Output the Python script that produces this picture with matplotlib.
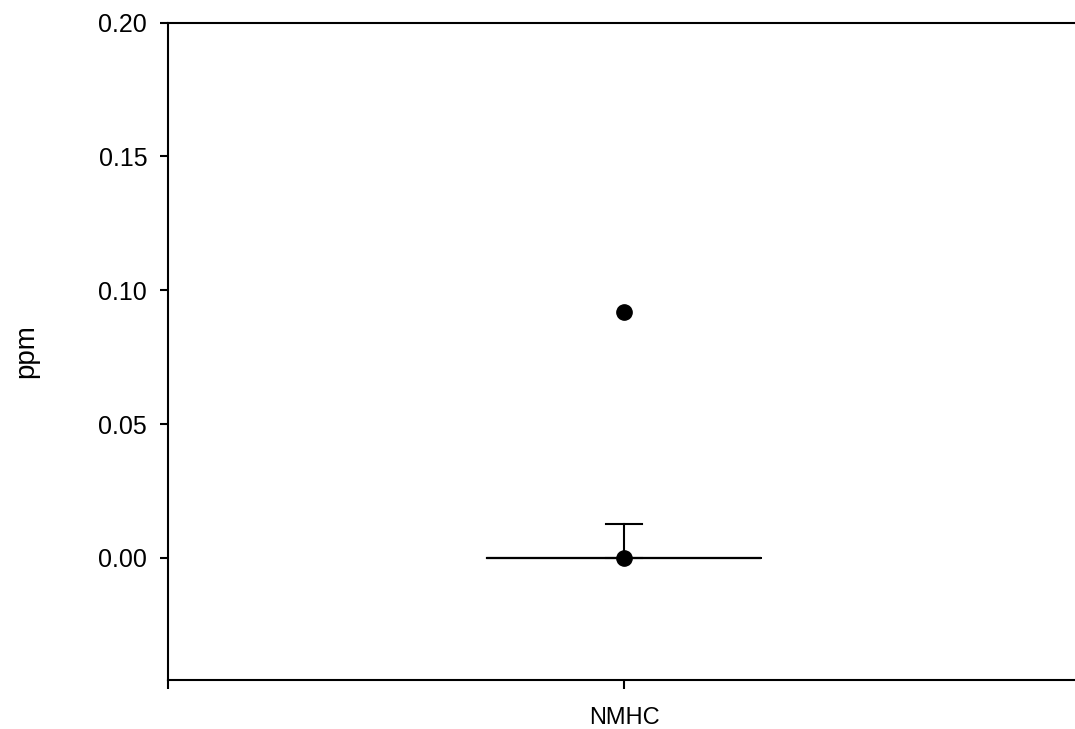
import numpy as np
import matplotlib.pyplot as plt

# summary of the NMHC readings (ppm)
categories = ['NMHC']
q1 = [0.0]
median = [0.0]
q3 = [0.0]
whisker_low = [0.0]
whisker_high = [0.0127]
outliers = [[0.0, 0.092]]

plt.rcParams['font.family'] = ['Liberation Sans', 'DejaVu Sans']

fig = plt.figure(figsize=(10.75, 7.29), dpi=100)
W, H = 1075.0, 729.0
left, right, top, bottom = 168, 1080, 22.7, 679.5
ax = fig.add_axes([left / W, 1 - bottom / H, (right - left) / W, (bottom - top) / H])

stats = []
for ii in range(len(categories)):
    stats.append(dict(label=categories[ii], q1=q1[ii], med=median[ii], q3=q3[ii],
                      whislo=whisker_low[ii], whishi=whisker_high[ii], fliers=outliers[ii]))

ax.bxp(stats, positions=[1], widths=0.3, capwidths=0.04, showfliers=True,
       boxprops=dict(color='black', linewidth=1.5),
       medianprops=dict(color='black', linewidth=1.5),
       whiskerprops=dict(color='black', linewidth=1.5),
       capprops=dict(color='black', linewidth=1.5),
       flierprops=dict(marker='o', markerfacecolor='black', markeredgecolor='black',
                       markersize=11, linestyle='none'))

ax.set_xlim(0.5, 1.5)
ax.set_ylim(-0.0455, 0.20)
ax.set_yticks(np.arange(0.0, 0.201, 0.05))
ax.set_yticklabels(['%.2f' % v for v in np.arange(0.0, 0.201, 0.05)])
ax.set_xticks([1])
ax.set_xticklabels(categories)
ax.set_xticks([0.5, 1.5], minor=True)

for side in ['left', 'bottom', 'top']:
    ax.spines[side].set_linewidth(1.5)
ax.spines['right'].set_visible(False)

ax.tick_params(axis='y', direction='out', length=6, width=1.5, pad=9, labelsize=18)
ax.tick_params(axis='x', which='major', direction='out', length=6.5, width=1.5, pad=13, labelsize=17)
ax.tick_params(axis='x', which='minor', direction='out', length=6.5, width=1.5)

fig.text(26 / W, 1 - 351 / H, 'ppm', rotation=90, ha='center', va='center', fontsize=20)

fig.savefig('out.png', dpi=100)
